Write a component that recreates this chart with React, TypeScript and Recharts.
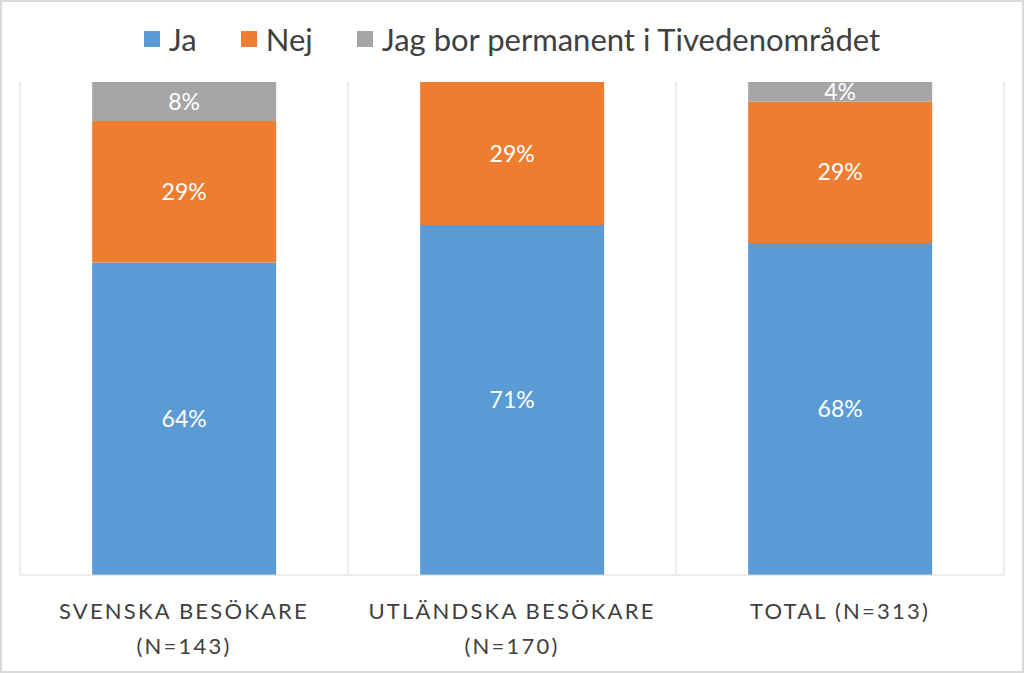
import { BarChart, Bar, XAxis, YAxis, CartesianGrid, LabelList } from "recharts";

const categories = ["SVENSKA BESÖKARE\n(N=143)", "UTLÄNDSKA BESÖKARE\n(N=170)", "TOTAL (N=313)"];
const ja = [64, 71, 68];
const nej = [29, 29, 29];
const bor = [8, 0, 4];

const SERIES = [
  { key: "ja", name: "Ja", color: "#5B9BD5" },
  { key: "nej", name: "Nej", color: "#ED7D31" },
  { key: "bor", name: "Jag bor permanent i Tivedenområdet", color: "#A5A5A5" },
];

const data = categories.map((c, i) => ({ name: c, ja: ja[i], nej: nej[i], bor: bor[i] }));

const FONT = "Lato, 'Liberation Sans', sans-serif";

const CategoryTick = ({ x, y, payload }: { x?: number; y?: number; payload?: { value: string } }) => {
  const lines = String(payload?.value ?? "").split("\n");
  return (
    <text x={x} y={y} textAnchor="middle" fill="#404040" fontSize={22} fontFamily={FONT} letterSpacing={2.2}>
      {lines.map((l, i) => (
        <tspan key={i} x={x} dy={i === 0 ? 36 : 35}>
          {l}
        </tspan>
      ))}
    </text>
  );
};

const ChartLegend = () => (
  <div
    style={{
      position: "absolute",
      top: 18,
      left: 0,
      width: "100%",
      display: "flex",
      justifyContent: "center",
      gap: 44,
      fontFamily: FONT,
      fontSize: 31,
      color: "#404040",
    }}
  >
    {SERIES.map((s) => (
      <div key={s.key} style={{ display: "flex", alignItems: "center" }}>
        <span style={{ width: 16, height: 16, background: s.color, display: "inline-block", marginRight: 9 }} />
        {s.name}
      </div>
    ))}
  </div>
);

const pct = (v: unknown) => (v ? `${v}%` : "");

export default function App() {
  return (
    <div style={{ position: "absolute", left: 0, top: 0, width: 1024, height: 673, background: "#fff", border: "2px solid #d9d9d9", boxSizing: "border-box" }}>
      <ChartLegend />
      <BarChart
        width={1020}
        height={669}
        data={data}
        stackOffset="expand"
        barCategoryGap="22%"
        margin={{ top: 80, right: 18, bottom: 0, left: 18 }}
        style={{ fontFamily: FONT }}
      >
        <CartesianGrid
          horizontal={false}
          stroke="#d9d9d9"
          verticalCoordinatesGenerator={({ offset }: any) =>
            categories.map((_, i) => offset.left + (offset.width * i) / categories.length).concat(offset.left + offset.width)
          }
        />
        <XAxis dataKey="name" interval={0} tickLine={false} axisLine={{ stroke: "#d9d9d9" }} tick={<CategoryTick />} height={96} />
        <YAxis hide domain={[0, 1]} />
        {SERIES.map((s) => (
          <Bar key={s.key} dataKey={s.key} name={s.name} stackId="a" fill={s.color} isAnimationActive={false}>
            <LabelList dataKey={s.key} position="center" fill="#fff" fontSize={23} fontFamily={FONT} formatter={pct} />
          </Bar>
        ))}
      </BarChart>
    </div>
  );
}
